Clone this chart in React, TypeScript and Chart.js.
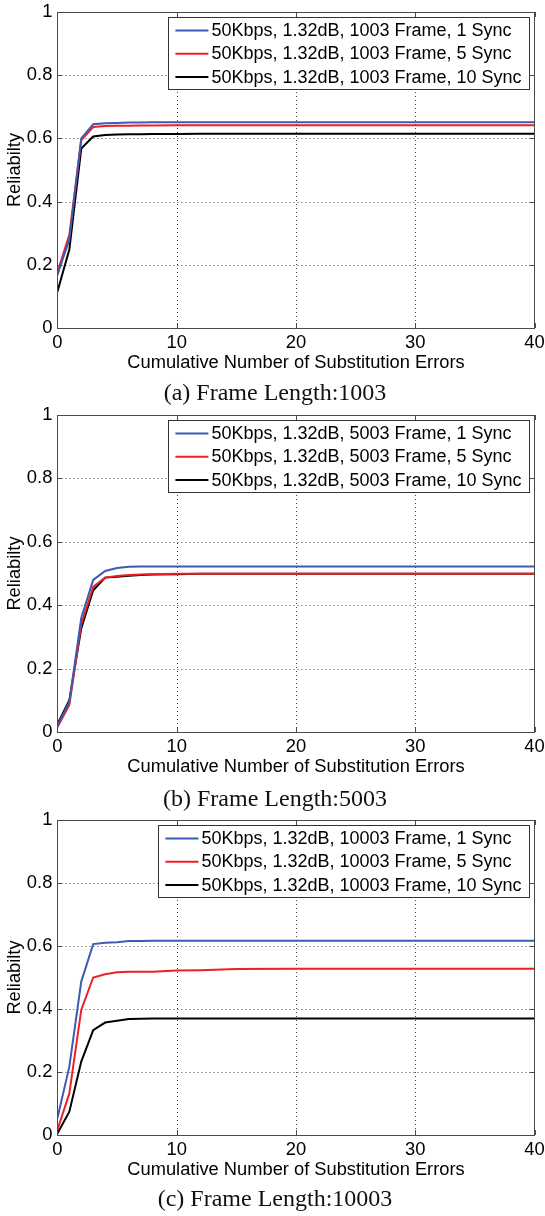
import React, { useEffect, useRef } from "react";
import { Chart, registerables } from "chart.js";

Chart.register(...registerables);

// ---------- data ----------
const X_VALUES = [0, 1, 2, 3, 4, 5, 6, 7, 8, 10, 12, 15, 20, 25, 30, 35, 40];
const X_TICKS = [0, 10, 20, 30, 40];
const Y_TICKS = [0, 0.2, 0.4, 0.6, 0.8, 1];
const SYNC_COUNTS = ["1", "5", "10"];
const FRAME_LENGTHS = ["1003", "5003", "10003"];
const SERIES_COLORS = ["#3b5bb4", "#ee1f27", "#000000"];
const X_TITLE = "Cumulative Number of Substitution Errors";
const Y_TITLE = "Reliabilty";
const CAPTION_LETTERS = ["a", "b", "c"];

// Frame 1003
const F1003_SYNC1 = [0.168, 0.28, 0.6, 0.645, 0.648, 0.649, 0.65, 0.65, 0.651, 0.651, 0.651, 0.651, 0.651, 0.651, 0.651, 0.651, 0.651];
const F1003_SYNC5 = [0.176, 0.295, 0.595, 0.636, 0.639, 0.64, 0.64, 0.641, 0.641, 0.642, 0.642, 0.642, 0.642, 0.642, 0.642, 0.642, 0.642];
const F1003_SYNC10 = [0.115, 0.248, 0.568, 0.606, 0.611, 0.612, 0.613, 0.613, 0.614, 0.614, 0.615, 0.615, 0.615, 0.615, 0.615, 0.615, 0.615];

// Frame 5003
const F5003_SYNC1 = [0.02, 0.095, 0.36, 0.48, 0.508, 0.517, 0.521, 0.522, 0.522, 0.522, 0.522, 0.522, 0.522, 0.522, 0.522, 0.522, 0.522];
const F5003_SYNC5 = [0.015, 0.085, 0.34, 0.458, 0.487, 0.492, 0.495, 0.497, 0.498, 0.499, 0.499, 0.499, 0.499, 0.499, 0.499, 0.499, 0.499];
const F5003_SYNC10 = [0.025, 0.1, 0.327, 0.447, 0.487, 0.49, 0.493, 0.495, 0.497, 0.498, 0.499, 0.499, 0.499, 0.499, 0.499, 0.499, 0.499];

// Frame 10003
const F10003_SYNC1 = [0.053, 0.217, 0.487, 0.606, 0.61, 0.612, 0.616, 0.616, 0.617, 0.617, 0.617, 0.617, 0.617, 0.617, 0.617, 0.617, 0.617];
const F10003_SYNC5 = [0.016, 0.132, 0.397, 0.5, 0.51, 0.517, 0.518, 0.518, 0.518, 0.522, 0.523, 0.527, 0.528, 0.528, 0.528, 0.528, 0.528];
const F10003_SYNC10 = [0.005, 0.074, 0.233, 0.333, 0.357, 0.363, 0.368, 0.369, 0.37, 0.37, 0.37, 0.37, 0.37, 0.37, 0.37, 0.37, 0.37];

const PANEL_SERIES = [
  [F1003_SYNC1, F1003_SYNC5, F1003_SYNC10],
  [F5003_SYNC1, F5003_SYNC5, F5003_SYNC10],
  [F10003_SYNC1, F10003_SYNC5, F10003_SYNC10],
];

// ---------- layout ----------
const PAGE_W = 545;
const PLOT_LEFT = 57.4;
const PLOT_RIGHT = 534.6;
const TOP_PAD = 12;
const X_AXIS_H = 52;
const PANEL_PLOT = [
  { top: 12, bottom: 328, caption: 379.5 },
  { top: 415, bottom: 732, caption: 785.5 },
  { top: 820, bottom: 1135, caption: 1186 },
];

const SANS = "'Liberation Sans', Arial, Helvetica, sans-serif";
const TICK_FONT = 18.4;
const TITLE_FONT = 18.3;
const LEGEND_FONT = 18;

const matlabPlugin = {
  id: "matlabFrame",
  beforeDatasetsDraw(chart: any) {
    const { ctx, chartArea: a, scales } = chart;
    ctx.save();
    ctx.strokeStyle = "#444";
    ctx.lineWidth = 1;
    ctx.setLineDash([1, 3]);
    for (const v of X_TICKS) {
      if (v === 0 || v === 40) continue;
      const x = Math.round(scales.x.getPixelForValue(v)) + 0.5;
      ctx.beginPath();
      ctx.moveTo(x, a.top);
      ctx.lineTo(x, a.bottom);
      ctx.stroke();
    }
    for (const v of Y_TICKS) {
      if (v === 0 || v === 1) continue;
      const y = Math.round(scales.y.getPixelForValue(v)) + 0.5;
      ctx.beginPath();
      ctx.moveTo(a.left, y);
      ctx.lineTo(a.right, y);
      ctx.stroke();
    }
    ctx.restore();
  },
  afterDatasetsDraw(chart: any) {
    const { ctx, chartArea: a, scales } = chart;
    ctx.save();
    ctx.setLineDash([]);
    ctx.strokeStyle = "#4a4a4a";
    ctx.lineWidth = 1;
    ctx.strokeRect(Math.round(a.left) + 0.5, Math.round(a.top) + 0.5, Math.round(a.right - a.left), Math.round(a.bottom - a.top));
    const tl = 5;
    ctx.beginPath();
    for (const v of X_TICKS) {
      const x = Math.round(scales.x.getPixelForValue(v)) + 0.5;
      ctx.moveTo(x, a.bottom);
      ctx.lineTo(x, a.bottom - tl);
      ctx.moveTo(x, a.top);
      ctx.lineTo(x, a.top + tl);
    }
    for (const v of Y_TICKS) {
      const y = Math.round(scales.y.getPixelForValue(v)) + 0.5;
      ctx.moveTo(a.left, y);
      ctx.lineTo(a.left + tl, y);
      ctx.moveTo(a.right, y);
      ctx.lineTo(a.right - tl, y);
    }
    ctx.stroke();

    // legend
    const ds = chart.data.datasets;
    ctx.font = `${LEGEND_FONT}px ${SANS}`;
    let maxW = 0;
    for (const d of ds) maxW = Math.max(maxW, ctx.measureText(d.label).width);
    const rowH = 23.3;
    const boxW = 44 + maxW + 7;
    const boxR = a.right - 5;
    const boxL = boxR - boxW;
    const boxT = a.top + 5;
    const boxH = 13.5 + rowH * (ds.length - 1) + 12;
    ctx.fillStyle = "#fff";
    ctx.fillRect(boxL, boxT, boxW, boxH);
    ctx.strokeStyle = "#333";
    ctx.strokeRect(Math.round(boxL) + 0.5, Math.round(boxT) + 0.5, Math.round(boxW), Math.round(boxH));
    ds.forEach((d: any, i: number) => {
      const cy = boxT + 13.5 + i * rowH;
      ctx.strokeStyle = d.borderColor;
      ctx.lineWidth = 2;
      ctx.beginPath();
      ctx.moveTo(boxL + 7, cy);
      ctx.lineTo(boxL + 40, cy);
      ctx.stroke();
      ctx.fillStyle = "#000";
      ctx.textBaseline = "middle";
      ctx.textAlign = "left";
      ctx.fillText(d.label, boxL + 43, cy + 0.5);
    });
    ctx.restore();
  },
};

function Panel({ index }: { index: number }) {
  const ref = useRef<HTMLCanvasElement | null>(null);
  const p = PANEL_PLOT[index];
  const canvasTop = p.top - TOP_PAD;
  const canvasH = p.bottom - p.top + TOP_PAD + X_AXIS_H;

  useEffect(() => {
    if (!ref.current) return;
    const tickFont = { family: SANS, size: TICK_FONT };
    const titleFont = { family: SANS, size: TITLE_FONT };
    const chart = new Chart(ref.current, {
      type: "line",
      data: {
        datasets: PANEL_SERIES[index].map((vals, i) => ({
          label: `50Kbps, 1.32dB, ${FRAME_LENGTHS[index]} Frame, ${SYNC_COUNTS[i]} Sync`,
          data: X_VALUES.map((x, k) => ({ x, y: vals[k] })),
          borderColor: SERIES_COLORS[i],
          backgroundColor: SERIES_COLORS[i],
          borderWidth: 2,
          pointRadius: 0,
          tension: 0,
          fill: false,
        })),
      },
      options: {
        animation: false,
        responsive: false,
        events: [],
        layout: { padding: { top: TOP_PAD, left: 0, right: PAGE_W - PLOT_RIGHT, bottom: 0 } },
        plugins: { legend: { display: false }, tooltip: { enabled: false } },
        scales: {
          x: {
            type: "linear",
            min: 0,
            max: 40,
            afterBuildTicks: (s: any) => {
              s.ticks = X_TICKS.map((v) => ({ value: v }));
            },
            afterFit: (s: any) => {
              s.height = X_AXIS_H;
              s.paddingLeft = 0;
              s.paddingRight = 0;
            },
            grid: { display: false, drawTicks: false },
            border: { display: false },
            ticks: { font: tickFont, color: "#000", padding: 4, maxRotation: 0, autoSkip: false },
            title: { display: true, text: X_TITLE, font: titleFont, color: "#000", padding: { top: 0, bottom: 6 } },
          },
          y: {
            type: "linear",
            min: 0,
            max: 1,
            afterBuildTicks: (s: any) => {
              s.ticks = Y_TICKS.map((v) => ({ value: v }));
            },
            afterFit: (s: any) => {
              s.width = PLOT_LEFT;
              s.paddingTop = 0;
              s.paddingBottom = 0;
            },
            grid: { display: false, drawTicks: false },
            border: { display: false },
            ticks: { font: tickFont, color: "#000", padding: 5, callback: (v: any) => String(v) },
            title: { display: true, text: Y_TITLE, font: titleFont, color: "#000", padding: { top: 4, bottom: 0 } },
          },
        },
      },
      plugins: [matlabPlugin],
    } as any);
    return () => chart.destroy();
  }, [index]);

  return (
    <>
      <canvas
        ref={ref}
        width={PAGE_W}
        height={canvasH}
        style={{ position: "absolute", left: 0, top: canvasTop, width: PAGE_W, height: canvasH }}
      />
      <div
        style={{
          position: "absolute",
          left: 0,
          width: 550,
          top: p.caption,
          textAlign: "center",
          fontFamily: "'Liberation Serif', 'Times New Roman', serif",
          fontSize: 24,
          lineHeight: "24px",
          color: "#111",
          whiteSpace: "nowrap",
        }}
      >
        ({CAPTION_LETTERS[index]}) Frame Length:{FRAME_LENGTHS[index]}
      </div>
    </>
  );
}

export default function App() {
  return (
    <>
      <style>{`body{margin:0;background:#fff}`}</style>
      <div style={{ position: "relative", width: PAGE_W, height: 1216, background: "#fff", overflow: "hidden" }}>
        {[0, 1, 2].map((i) => (
          <Panel key={i} index={i} />
        ))}
      </div>
    </>
  );
}
